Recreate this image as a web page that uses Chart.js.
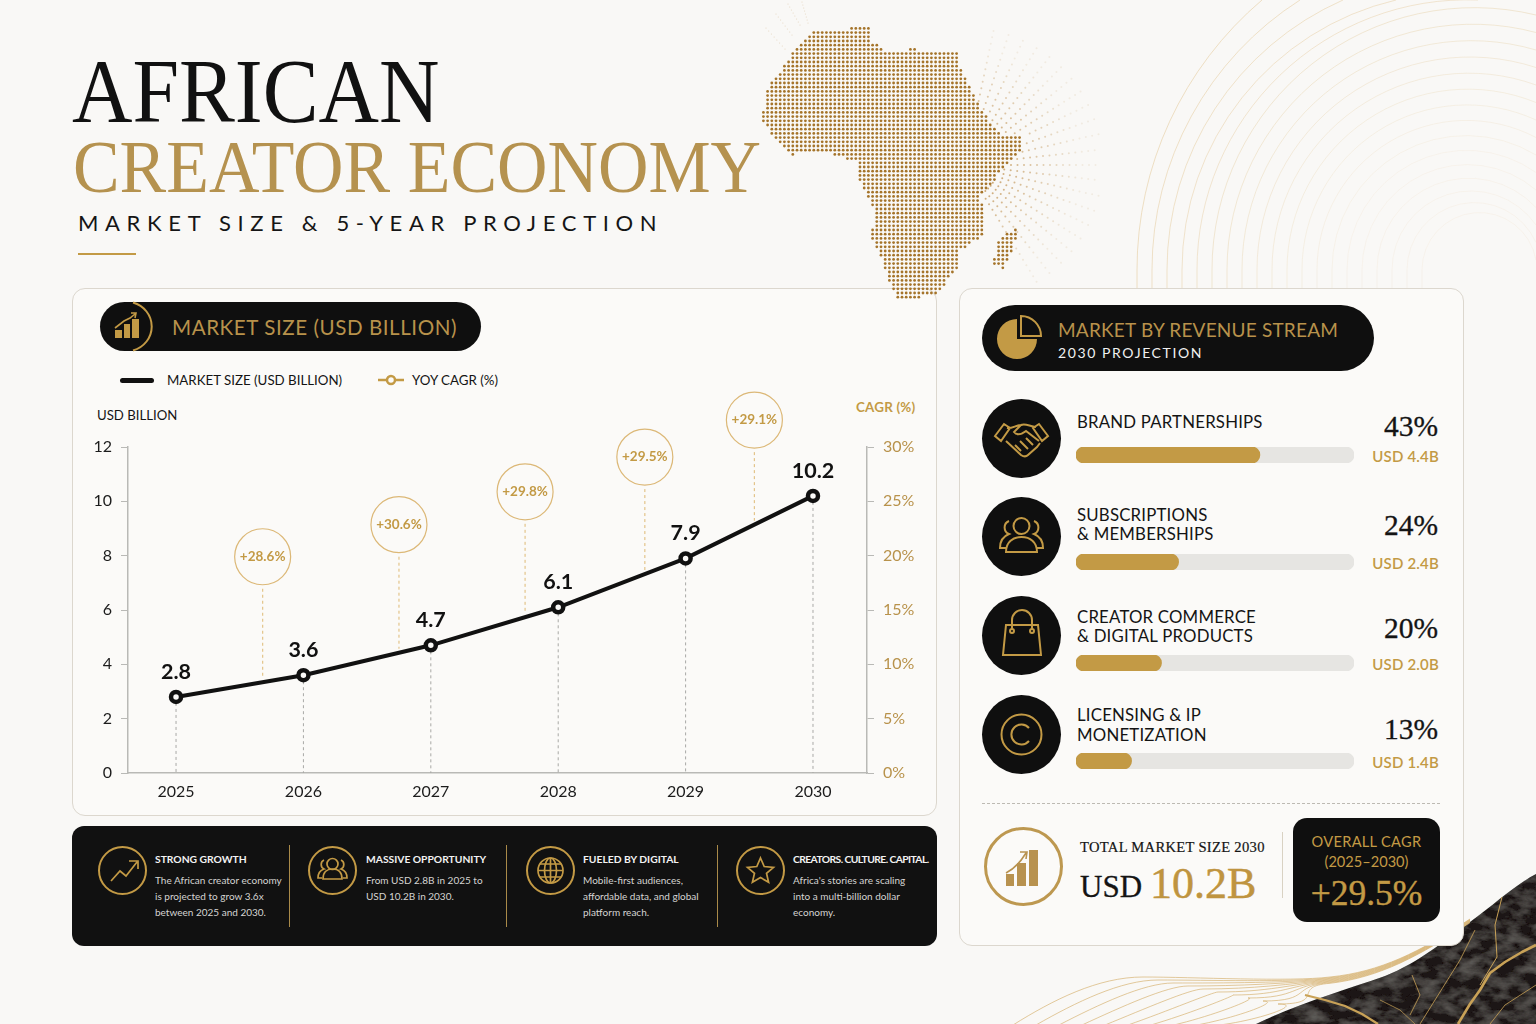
<!DOCTYPE html>
<html><head><meta charset="utf-8">
<script src="https://cdn.jsdelivr.net/npm/chart.js@4"></script>
<style>
*{box-sizing:border-box;margin:0;padding:0}
html,body{width:1536px;height:1024px;overflow:hidden;background:#f9f8f6;font-family:Lato,sans-serif;color:#141414}
.a{position:absolute;white-space:nowrap}
.serif{font-family:"Liberation Serif",serif}
.panel{position:absolute;background:#fbfaf8;border:1px solid #dcd7ce;border-radius:13px}
.pill{position:absolute;background:#0f0f0f}
.gold{color:#c39a45}
.c{transform:translateY(-50%)}
svg{position:absolute;overflow:visible}
canvas{position:absolute}
.round{position:absolute;border-radius:50%;background:#0f0f0f}
.ring{position:absolute;border-radius:50%;border:2px solid #c39a45}
.bt{font-size:10.3px;font-weight:700;color:#f3f3f3}
.bl{font-size:10px;color:#d5d4d1}
</style></head><body>
<svg id="deco" width="1536" height="1024" style="left:0;top:0"></svg>
<div class="panel" style="left:72px;top:288px;width:865px;height:528px"></div>
<div class="panel" style="left:959px;top:288px;width:505px;height:658px"></div>

<div class="a serif" style="left:72px;top:38px;font-size:92px;line-height:106px;transform:scaleX(.91);transform-origin:0 0;color:#111">AFRICAN</div>
<div class="a serif" style="left:73px;top:124px;font-size:75px;line-height:86px;transform:scaleX(.932);transform-origin:0 0;color:#b5924f">CREATOR ECONOMY</div>
<div class="a" style="left:78px;top:209px;font-size:22px;line-height:27px;letter-spacing:6.65px;color:#151515">MARKET SIZE &amp; 5-YEAR PROJECTION</div>
<div class="a" style="left:78px;top:253px;width:58px;height:2px;background:#c39a45"></div>

<div class="pill" style="left:100px;top:302px;width:381px;height:49px;border-radius:25px"></div>
<svg style="left:100px;top:302px" width="60" height="49" fill="none"><path d="M33 .5A26 25 0 0 1 33 48.5" stroke="#c39a45" stroke-width="2"/><path d="M15 36h7v-8h-7zM24 36h6V22h-6zM32 36h7V17h-7z" fill="#c39a45"/><path d="M15 26l9-7 6-3 5-4M31 11l5 0-1 5" stroke="#c39a45" stroke-width="1.6"/></svg>
<div class="a gold c" style="left:172px;top:327px;font-size:20.6px;letter-spacing:.55px;color:#b8924b">MARKET SIZE (USD BILLION)</div>

<div class="a" style="left:120px;top:378px;width:34px;height:5px;border-radius:3px;background:#111"></div>
<div class="a c" id="lg1" style="left:167px;top:380px;font-size:13.3px"></div>
<svg style="left:378px;top:372px" width="28" height="16" fill="none"><path d="M0 8h26" stroke="#c39a45" stroke-width="2.5"/><circle cx="13" cy="8" r="4" fill="#fbfaf8" stroke="#c39a45" stroke-width="2.5"/></svg>
<div class="a c" id="lg2" style="left:412px;top:380px;font-size:13.3px"></div>
<div class="a c" style="left:97px;top:415px;font-size:13.2px">USD BILLION</div>
<div class="a c gold" style="left:856px;top:407px;font-size:13.4px;font-weight:700;letter-spacing:.2px">CAGR (%)</div>

<canvas id="main" style="left:90px;top:380px" width="840" height="430"></canvas>

<div class="a" style="left:72px;top:826px;width:865px;height:120px;background:#111;border-radius:12px"></div>
<div id="band"></div>

<div class="pill" style="left:982px;top:305px;width:392px;height:66px;border-radius:33px"></div>
<svg style="left:982px;top:305px" width="70" height="66" fill="none"><path d="M35 14V34H55A20 20 0 1 1 35 14Z" fill="#c39a45"/><path d="M39 11A20 20 0 0 1 59 31H39Z" stroke="#c39a45" stroke-width="2"/></svg>
<div class="a gold c" style="left:1058px;top:329px;font-size:19px;letter-spacing:.2px;color:#b8924b">MARKET BY REVENUE STREAM</div>
<div class="a c" style="left:1058px;top:352px;font-size:14px;letter-spacing:1.6px;color:#f1f1f1">2030 PROJECTION</div>
<div id="rows"></div>

<div class="a" style="left:982px;top:803px;width:458px;border-top:1px dashed #bdbab3"></div>
<div class="ring" style="left:984px;top:827px;width:79px;height:79px;border-width:3px;border-color:#bd9850"></div>
<svg style="left:984px;top:827px" width="79" height="79" fill="none"><path d="M22 59h8V47h-8zM33 59h9V36h-9zM45 59h9V23h-9z" fill="#b8924f"/><path d="M22 46c8-4 14-10 20-20M36 25l7 0-1 7" stroke="#b8924f" stroke-width="1.6"/></svg>
<div class="a serif c" style="left:1080px;top:847px;font-size:14.6px;letter-spacing:.3px;-webkit-text-stroke:.2px #141414">TOTAL MARKET SIZE 2030</div>
<div class="a serif c" style="left:1080px;top:887px;font-size:31px;-webkit-text-stroke:.3px #141414">USD</div>
<div class="a serif c" style="left:1150px;top:883px;font-size:44px;color:#bf9440;-webkit-text-stroke:.5px #bf9440">10.2B</div>
<div class="a" style="left:1282px;top:832px;width:1px;height:66px;background:#d9d2c3"></div>
<div class="a" style="left:1293px;top:818px;width:147px;height:104px;background:#0f0f0f;border-radius:14px"></div>
<div class="a c gold" style="left:1293px;width:147px;text-align:center;top:841px;font-size:14.6px;letter-spacing:.3px">OVERALL CAGR</div>
<div class="a c gold" style="left:1293px;width:147px;text-align:center;top:861px;font-size:14.6px">(2025–2030)</div>
<div class="a c serif" style="left:1293px;width:147px;text-align:center;top:893px;font-size:35.5px;color:#c39a45;-webkit-text-stroke:.4px #c39a45">+29.5%</div>

<canvas id="map" style="left:740px;top:0" width="360" height="310"></canvas>

<script>
// ---------- chart values ----------
const years = [2025, 2026, 2027, 2028, 2029, 2030];
const marketSize = [2.8, 3.6, 4.7, 6.1, 7.9, 10.2];
const yoyLabels = ["+28.6%", "+30.6%", "+29.8%", "+29.5%", "+29.1%"];
const yoyBubbleYear = [2025.68, 2026.75, 2027.74, 2028.68, 2029.54];
const yoyBubbleLevel = [7.96, 9.14, 10.35, 11.63, 12.99];
const usdTicks = [0, 2, 4, 6, 8, 10, 12];
const cagrTicks = [0, 5, 10, 15, 20, 25, 30];
const seriesNames = ["MARKET SIZE (USD BILLION)", "YOY CAGR (%)"];
const streamLines = [["BRAND PARTNERSHIPS"], ["SUBSCRIPTIONS", "& MEMBERSHIPS"], ["CREATOR COMMERCE", "& DIGITAL PRODUCTS"], ["LICENSING & IP", "MONETIZATION"]];
const streamShare = [43, 24, 20, 13];
const streamUsd = ["USD 4.4B", "USD 2.4B", "USD 2.0B", "USD 1.4B"];
const bandTitles = ["STRONG GROWTH", "MASSIVE OPPORTUNITY", "FUELED BY DIGITAL", "CREATORS. CULTURE. CAPITAL."];
const bandTexts = [["The African creator economy", "is projected to grow 3.6x", "between 2025 and 2030."], ["From USD 2.8B in 2025 to", "USD 10.2B in 2030."], ["Mobile-first audiences,", "affordable data, and global", "platform reach."], ["Africa's stories are scaling", "into a multi-billion dollar", "economy."]];

Chart.defaults.animation = false;
Chart.defaults.font.family = "Lato, sans-serif";
document.getElementById('lg1').textContent = seriesNames[0];
document.getElementById('lg2').textContent = seriesNames[1];

// ---------- main chart ----------
const GOLD = '#c39a45';
const overlay = {
  id: 'overlay',
  beforeDatasetsDraw(ch) {
    const c = ch.ctx, x = ch.scales.x, y = ch.scales.y;
    c.save();
    c.setLineDash([3, 3]); c.lineWidth = 1; c.strokeStyle = '#a9a9a6';
    years.forEach((yr, i) => { c.beginPath(); c.moveTo(x.getPixelForValue(yr), y.getPixelForValue(marketSize[i])); c.lineTo(x.getPixelForValue(yr), y.bottom); c.stroke(); });
    c.strokeStyle = '#e3c48a'; c.lineWidth = 1.2;
    yoyBubbleYear.forEach((b, i) => {
      const k = Math.floor(b) - years[0], f = b - Math.floor(b);
      const v = marketSize[k] + (marketSize[k + 1] - marketSize[k]) * f;
      c.beginPath(); c.moveTo(x.getPixelForValue(b), y.getPixelForValue(yoyBubbleLevel[i]) + 32); c.lineTo(x.getPixelForValue(b), y.getPixelForValue(v) - 4); c.stroke();
    });
    c.restore();
  },
  afterDatasetsDraw(ch) {
    const c = ch.ctx, x = ch.scales.x, y = ch.scales.y;
    c.save(); c.textAlign = 'center'; c.textBaseline = 'middle';
    c.font = '700 21.5px Lato, sans-serif'; c.fillStyle = '#111';
    years.forEach((yr, i) => c.fillText(String(marketSize[i]), x.getPixelForValue(yr), y.getPixelForValue(marketSize[i]) - 25));
    c.font = '700 13.5px Lato, sans-serif'; c.fillStyle = GOLD;
    yoyBubbleYear.forEach((b, i) => c.fillText(yoyLabels[i], x.getPixelForValue(b), y.getPixelForValue(yoyBubbleLevel[i])));
    c.restore();
  }
};
new Chart(document.getElementById('main'), {
  type: 'line',
  data: { datasets: [
    { label: seriesNames[0], data: years.map((yr, i) => ({ x: yr, y: marketSize[i] })), borderColor: '#111', borderWidth: 4, tension: 0, pointRadius: 5, pointBackgroundColor: '#fbfaf8', pointBorderColor: '#111', pointBorderWidth: 4.5, yAxisID: 'y', order: 1 },
    { label: seriesNames[1], data: yoyBubbleYear.map((b, i) => ({ x: b, y: yoyBubbleLevel[i] })), showLine: false, clip: false, pointRadius: 28, pointBackgroundColor: '#fbfaf8', pointBorderColor: '#dcb877', pointBorderWidth: 1.2, yAxisID: 'y', order: 2 }
  ] },
  options: {
    responsive: false, devicePixelRatio: 1,
    layout: { padding: { top: 67, left: 0, right: 0, bottom: 0 } },
    plugins: { legend: { display: false }, tooltip: { enabled: false } },
    scales: {
      x: { type: 'linear', min: 2024.623, max: 2030.424,
        afterBuildTicks(s) { s.ticks = years.map(v => ({ value: v })); },
        afterFit(s) { s.height = 37; },
        border: { color: '#b9b9b6', width: 1.5 }, grid: { display: false, drawTicks: false },
        ticks: { padding: 9, autoSkip: false, maxRotation: 0, color: '#1c1c1c', font: { size: 16 }, callback: v => String(v) } },
      y: { position: 'left', min: 0, max: 12,
        afterBuildTicks(s) { s.ticks = usdTicks.map(v => ({ value: v })); },
        afterFit(s) { s.width = 38; },
        border: { color: '#b9b9b6', width: 1.5 }, grid: { drawOnChartArea: false, tickLength: 7, color: '#b9b9b6' },
        ticks: { padding: 9, color: '#1c1c1c', font: { size: 16 } } },
      y2: { position: 'right', min: 0, max: 30,
        afterBuildTicks(s) { s.ticks = cagrTicks.map(v => ({ value: v })); },
        afterFit(s) { s.width = 63; },
        border: { color: '#b9b9b6', width: 1.5 }, grid: { drawOnChartArea: false, tickLength: 7, color: '#b9b9b6' },
        ticks: { padding: 9, color: '#b8924b', font: { size: 16 }, callback: v => v + '%' } }
    }
  },
  plugins: [overlay]
});

// ---------- revenue rows ----------
const ic = {
 shake:'<path d="M13 37l9-12 6 4-9 13zM66 37l-9-12-6 4 9 13zM25 29c5 1 9-3 14-3l-7 7c3 4 8 2 12-1l13 10M39 26c4-2 8 1 15 2M24 42l15 14c3 2 5 2 7 0l9-8 3-4M33 46l6 6M38 42l8 8M44 39l7 7"/>',
 people:'<circle cx="39.5" cy="29" r="8"/><path d="M24 55c0-10 7-15 15.5-15S55 45 55 55zM27 24a7 7 0 0 0 0 13c-5 2-9 6-9 14h6M52 24a7 7 0 0 1 0 13c5 2 9 6 9 14h-6"/>',
 bag:'<path d="M24 29h32l3 30H21zM30 33v-9a10 10 0 0 1 20 0v9"/><circle cx="30" cy="35" r="2"/><circle cx="50" cy="35" r="2"/>',
 copy:'<circle cx="39.5" cy="39.5" r="20"/><path d="M47 33a10 10 0 1 0 0 13"/>'
};
const rowIcons = [ic.shake, ic.people, ic.bag, ic.copy];
const rowCircleY = [438, 536, 635, 734], rowBarY = [455, 562, 663, 761];
const rowLabelY = [[421], [514, 533], [616, 635], [714, 734]], rowPctY = [426, 525, 628, 729], rowUsdY = [456, 563, 664, 762];
const rows = document.getElementById('rows');
streamShare.forEach((s, i) => {
  let h = `<div class="round" style="left:982px;top:${rowCircleY[i]-39.5}px;width:79px;height:79px"></div>
  <svg style="left:982px;top:${rowCircleY[i]-39.5}px" width="79" height="79" fill="none" stroke="#c39a45" stroke-width="2">${rowIcons[i]}</svg>`;
  streamLines[i].forEach((t, j) => { h += `<div class="a c lab" style="left:1077px;top:${rowLabelY[i][j]}px;font-size:16.8px;letter-spacing:.2px"></div>`; });
  h += `<div class="a c serif" style="right:98px;top:${rowPctY[i]}px;font-size:29.5px;-webkit-text-stroke:.3px #141414">${s}%</div>
  <div class="a c gold" style="right:97px;top:${rowUsdY[i]}px;font-size:15px;font-weight:600;letter-spacing:.2px">${streamUsd[i]}</div>
  <canvas id="bar${i}" style="left:1076px;top:${rowBarY[i]-8}px" width="278" height="16"></canvas>`;
  const w = document.createElement('div'); w.innerHTML = h; rows.appendChild(w);
  w.querySelectorAll('.lab').forEach((el, j) => el.textContent = streamLines[i][j]);
  new Chart(document.getElementById('bar' + i), {
    type: 'bar',
    data: { labels: [streamLines[i].join(' ')], datasets: [
      { data: [s], backgroundColor: GOLD, borderRadius: 8, borderSkipped: false, order: 1 },
      { data: [65], backgroundColor: '#e6e5e2', borderRadius: 8, borderSkipped: false, order: 2 }
    ] },
    options: { indexAxis: 'y', responsive: false, devicePixelRatio: 1, barPercentage: 1, categoryPercentage: 1, grouped: false,
      datasets: { bar: { grouped: false } },
      plugins: { legend: { display: false }, tooltip: { enabled: false } },
      scales: { x: { display: false, min: 0, max: 65 }, y: { display: false } } }
  });
});

// ---------- bottom band ----------
const bandIcons = [
 '<path d="M13 35l9-10 6 5 11-14M31 15h9v8"/>',
 '<circle cx="24.5" cy="18" r="5.5"/><path d="M15 33c0-7 4-10 9.5-10S34 26 34 33zM16 14a5 5 0 0 0 0 9c-3 1-6 4-6 9h4M33 14a5 5 0 0 1 0 9c3 1 6 4 6 9h-4"/>',
 '<circle cx="24.5" cy="24.5" r="12.5"/><ellipse cx="24.5" cy="24.5" rx="6" ry="12.5"/><path d="M12 24.5h25M14 18h21M14 31h21M24.5 12v25"/>',
 '<path d="M24.5 12l3.7 8.5 9.3.8-7 6 2.1 9-8.1-4.8-8.1 4.8 2.1-9-7-6 9.3-.8z"/>'
];
const bandCx = [122, 332, 550, 760], bandTx = [155, 366, 583, 793], bandDiv = [289, 506, 717];
let b = '';
bandTitles.forEach((t, i) => {
  b += `<div class="ring" style="left:${bandCx[i]-24.5}px;top:845.5px;width:49px;height:49px"></div>
  <svg style="left:${bandCx[i]-24.5}px;top:845.5px" width="49" height="49" fill="none" stroke="#c39a45" stroke-width="1.7">${bandIcons[i]}</svg>
  <div class="a c bt" style="left:${bandTx[i]}px;top:859px;${i === 3 ? 'letter-spacing:-.58px' : ''}">${t}</div>`;
  bandTexts[i].forEach((l, j) => { b += `<div class="a c bl" style="left:${bandTx[i]}px;top:${879.5 + j * 16}px">${l}</div>`; });
});
bandDiv.forEach(x => { b += `<div class="a" style="left:${x}px;top:845px;width:1px;height:82px;background:#a98a49"></div>`; });
document.getElementById('band').innerHTML = b;

// ---------- decoration ----------
(function () {
  let s = `<defs><filter id="stone" x="0" y="0" width="100%" height="100%"><feTurbulence type="fractalNoise" baseFrequency=".05 .09" numOctaves="4" seed="7"/><feColorMatrix values="0 0 0 0 .26  0 0 0 0 .25  0 0 0 0 .23  .8 0 0 0 -.3"/><feComposite in2="SourceGraphic" operator="in"/><feMerge><feMergeNode in="SourceGraphic"/><feMergeNode/></feMerge></filter></defs>`;
  for (let k = 0; k < 24; k++) {
    const L = 1137 + k * 15;
    const tops = [1262, 1300, 1343, 1396, 1478];
    const px = k < 5 ? tops[k] : 1536, py = k < 5 ? 0 : 15 + (k - 5) * 17.5;
    if (py > 262) break;
    const d = px - L, h = 270 - py, r = (d * d + h * h) / (2 * d);
    const op = Math.max(.15, .7 - k * .04);
    s += `<path d="M${L} 288 L${L} 270 A${r} ${r} 0 0 1 ${px} ${py}" fill="none" stroke="#e8d3ad" stroke-width="1" opacity="${op}"/>`;
  }
  s += `<path d="M1256 1024C1300 1003 1345 990 1385 976C1420 962 1445 940 1470 922C1495 904 1515 885 1536 874V1024Z" fill="#1a1917" filter="url(#stone)"/>`;
  for (let k = 0; k < 10; k++) {
    const sx = 1013 + k * 23, py = 977 + k * 3, px = sx + 130 - k * 8;
    s += `<path d="M${sx} 1025C${sx + 40} ${1000 + k * 2.2} ${sx + 85} ${py} ${px} ${py}C${px + 50} ${py} 1290 ${982 + k * .5} 1330 ${977 + k * .7}C1380 ${972 + k * .6} 1420 ${952 + k * .4} 1470 ${919 + k * .4}" fill="none" stroke="#d5b06d" stroke-width=".8" opacity=".85"/>`;
  }
  const veins = [
    ['M1536 945L1522 952L1505 962L1490 973L1480 990L1470 1004L1458 1024', 2.6],
    ['M1305 995L1325 1000L1345 1006L1362 1014L1378 1024', 2.3],
    ['M1502 897L1495 925L1497 957L1480 985', 1],
    ['M1420 1024L1435 1000L1460 960L1475 930', .8],
    ['M1380 1000L1400 1010L1415 1024', .7],
    ['M1412 975L1420 995L1410 1015', .8],
    ['M1536 985L1505 1005L1490 1024', .8]
  ];
  veins.forEach(v => { s += `<path d="${v[0]}" fill="none" stroke="#c9a257" stroke-width="${v[1]}" stroke-linejoin="round"/>`; });
  document.getElementById('deco').innerHTML = s;

  // Africa outline (in the map canvas's own pixels)
  const z = p => p.map(q => [q[0] / 3, q[1] / 3 + 10]);
  const africa = z([[215,65],[390,50],[395,95],[440,125],[490,130],[510,110],[555,125],[610,130],[660,130],[660,170],[690,235],[740,320],[780,375],[855,370],[840,420],[780,490],[720,560],[735,620],[725,680],[660,720],[660,770],[590,850],[480,875],[440,800],[415,720],[390,680],[410,620],[370,530],[350,510],[360,460],[300,440],[240,425],[150,435],[100,380],[65,330],[85,230],[180,100]]);
  const mad = z([[835,650],[825,700],[790,775],[760,770],[770,690]]);
  const inside = (p, x, y) => { let o = false; for (let i = 0, j = p.length - 1; i < p.length; j = i++) { if ((p[i][1] > y) !== (p[j][1] > y) && x < (p[j][0] - p[i][0]) * (y - p[i][1]) / (p[j][1] - p[i][1]) + p[i][0]) o = !o; } return o; };
  const c = document.getElementById('map').getContext('2d');
  c.fillStyle = '#a5742a';
  for (let yy = 20; yy < 305; yy += 4.2) for (let xx = 15; xx < 300; xx += 4.2) {
    if (inside(africa, xx, yy) || inside(mad, xx, yy)) { c.beginPath(); c.arc(xx, yy, 1.4, 0, 7); c.fill(); }
  }
  const o = [225, 165];
  c.fillStyle = '#bf9150';
  for (let a = -78; a <= 62; a += 6.5) {
    const t = a * Math.PI / 180;
    for (let r = 20; r < 140; r += 6.5) {
      const x = o[0] + r * Math.cos(t), y = o[1] + r * Math.sin(t);
      if (inside(africa, x, y) || inside(mad, x, y) || y < 12) continue;
      c.globalAlpha = Math.max(.12, 1 - r / 135);
      c.beginPath(); c.arc(x, y, 1, 0, 7); c.fill();
    }
  }
  c.globalAlpha = .3;
  [[26,28,45],[36,14,52],[48,4,60],[62,2,68]].forEach(l => { for (let i = 0; i < 8; i++) { c.beginPath(); c.arc(l[0] + (l[2] - l[0]) * i / 7, l[1] + 3 * i, .6, 0, 7); c.fill(); } });
  c.globalAlpha = 1;
})();
</script>
</body></html>
